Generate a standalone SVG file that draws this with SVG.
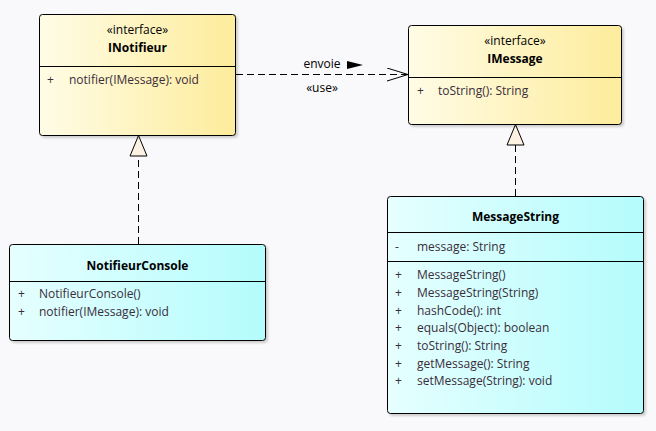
<svg xmlns="http://www.w3.org/2000/svg" width="656" height="431" viewBox="0 0 656 431">
<defs>
<linearGradient id="gy" x1="0" y1="0" x2="1" y2="0">
<stop offset="0" stop-color="#fffce6"/>
<stop offset="1" stop-color="#fdec9c"/>
</linearGradient>
<linearGradient id="gc" x1="0" y1="0" x2="1" y2="0">
<stop offset="0" stop-color="#e6ffff"/>
<stop offset="1" stop-color="#b4fcfc"/>
</linearGradient>
<filter id="sh" x="-5%" y="-5%" width="115%" height="115%">
<feDropShadow dx="2" dy="2" stdDeviation="1.2" flood-color="#000" flood-opacity="0.18"/>
</filter>
<marker id="open" markerWidth="22" markerHeight="16" refX="21" refY="7" orient="auto" markerUnits="userSpaceOnUse">
<path d="M0,0.5 L21,7 L0,13.5" fill="none" stroke="#000" stroke-width="1"/>
</marker>
</defs>
<style>
text{font-family:"Open Sans","Noto Sans","DejaVu Sans",sans-serif;font-size:12px;fill:#3a2d3a}
.nm{font-weight:bold;fill:#000;text-anchor:middle}
.st{fill:#000;text-anchor:middle}
.box{stroke:#000;stroke-width:1;filter:url(#sh)}
.sep{stroke:#000;stroke-width:1}
.dash{stroke:#000;stroke-width:1;stroke-dasharray:7,4;fill:none}
.tri{fill:#fdf1e2;stroke:#000;stroke-width:1}
</style>
<rect width="656" height="431" fill="#f9f9fb"/>
<g id="connectors">
<line class="dash" x1="236" y1="74.5" x2="408" y2="74.5" marker-end="url(#open)"/>
<text x="322" y="68" class="st">envoie</text>
<polygon points="347,61 363,65 347,69" fill="#000"/>
<text x="322" y="92" class="st">«use»</text>
<line class="dash" x1="138.5" y1="244" x2="138.5" y2="156"/>
<polygon class="tri" points="138.5,135.5 130,156 147,156"/>
<line class="dash" x1="515.5" y1="196" x2="515.5" y2="145"/>
<polygon class="tri" points="515.5,124.5 507,145 524,145"/>
</g>
<g id="INotifieur">
<rect class="box" x="39.5" y="14.5" width="196" height="121" rx="3" fill="url(#gy)"/>
<line class="sep" x1="39.5" y1="66.5" x2="235.5" y2="66.5"/>
<text x="137.5" y="34" class="st">«interface»</text>
<text x="137.5" y="52" class="nm">INotifieur</text>
<text x="47" y="84">+</text>
<text x="69" y="84">notifier(IMessage): void</text>
</g>
<g id="IMessage">
<rect class="box" x="408.5" y="25.5" width="213" height="99" rx="3" fill="url(#gy)"/>
<line class="sep" x1="408.5" y1="77.5" x2="621.5" y2="77.5"/>
<text x="515" y="45" class="st">«interface»</text>
<text x="515" y="63" class="nm">IMessage</text>
<text x="417" y="95">+</text>
<text x="438" y="95">toString(): String</text>
</g>
<g id="NotifieurConsole">
<rect class="box" x="9.5" y="244.5" width="256" height="96" rx="3" fill="url(#gc)"/>
<line class="sep" x1="9.5" y1="281.5" x2="265.5" y2="281.5"/>
<text x="137.5" y="270" class="nm">NotifieurConsole</text>
<text x="18" y="298">+</text>
<text x="39" y="298">NotifieurConsole()</text>
<text x="18" y="316">+</text>
<text x="39" y="316">notifier(IMessage): void</text>
</g>
<g id="MessageString">
<rect class="box" x="387.5" y="196.5" width="256" height="217" rx="3" fill="url(#gc)"/>
<line class="sep" x1="387.5" y1="232.5" x2="643.5" y2="232.5"/>
<line class="sep" x1="387.5" y1="261.5" x2="643.5" y2="261.5"/>
<text x="515.5" y="221" class="nm">MessageString</text>
<text x="395" y="251">-</text>
<text x="417" y="251">message: String</text>
<text x="395" y="279">+</text><text x="417" y="279">MessageString()</text>
<text x="395" y="297">+</text><text x="417" y="297">MessageString(String)</text>
<text x="395" y="314.5">+</text><text x="417" y="314.5">hashCode(): int</text>
<text x="395" y="332">+</text><text x="417" y="332">equals(Object): boolean</text>
<text x="395" y="350">+</text><text x="417" y="350">toString(): String</text>
<text x="395" y="367.5">+</text><text x="417" y="367.5">getMessage(): String</text>
<text x="395" y="385">+</text><text x="417" y="385">setMessage(String): void</text>
</g>
</svg>
